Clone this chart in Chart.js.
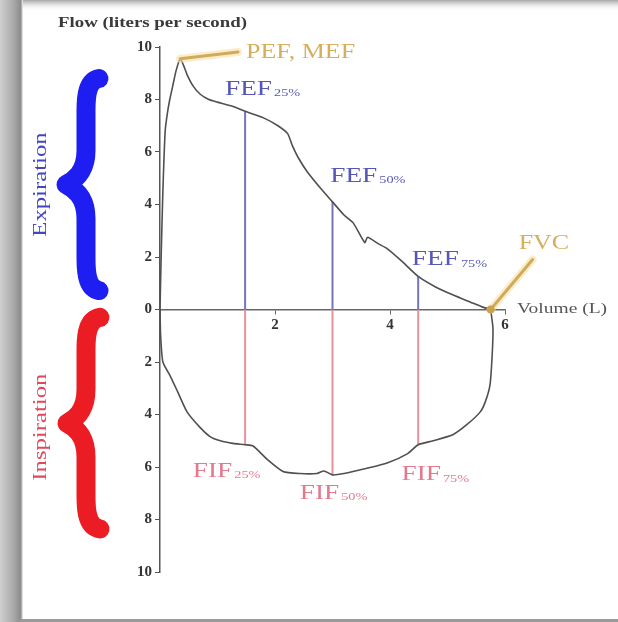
<!DOCTYPE html>
<html>
<head>
<meta charset="utf-8">
<title>Flow-volume loop</title>
<script src="https://cdn.jsdelivr.net/npm/chart.js@4.4.0/dist/chart.umd.min.js"></script>
<style>
  html, body { margin: 0; padding: 0; background: #fff; }
  #wrap { width: 618px; height: 622px; }
</style>
</head>
<body>
<div id="wrap"><canvas id="loopChart" width="618" height="622"></canvas></div>
<script>
// expiration limb: volume (L) vs flow (L/s)
const expVolume = [0, 0.02, 0.05, 0.09, 0.13, 0.17, 0.22, 0.28, 0.35, 0.41,
    0.47, 0.58, 0.7, 0.85, 1.0, 1.25, 1.48, 1.8, 2.05, 2.22,
    2.3, 2.4, 2.56, 2.8, 3.0, 3.2, 3.36, 3.56, 3.61, 3.8,
    3.95, 4.2, 4.49, 4.8, 5.1, 5.4, 5.6, 5.75];
const expFlow = [0, 2.0, 4.5, 6.8, 7.5, 8.0, 8.5, 9.1, 9.55, 9.3,
    8.95, 8.5, 8.2, 8.0, 7.9, 7.75, 7.55, 7.3, 7.0, 6.7,
    6.25, 5.8, 5.25, 4.6, 4.1, 3.6, 3.3, 2.55, 2.75, 2.5,
    2.32, 1.85, 1.26, 0.85, 0.55, 0.28, 0.1, 0];

// inspiration limb (negative flow)
const inspVolume = [0, 0.01, 0.05, 0.17, 0.3, 0.47, 0.7, 0.87, 1.05, 1.27,
    1.48, 1.62, 1.86, 2.14, 2.43, 2.73, 2.85, 3.0, 3.2, 3.6,
    3.95, 4.3, 4.49, 4.75, 5.1, 5.34, 5.57, 5.66, 5.74, 5.78,
    5.79, 5.75];
const inspFlow = [0, -0.95, -2.0, -2.5, -3.1, -3.9, -4.5, -4.84, -5.0, -5.1,
    -5.15, -5.2, -5.7, -6.17, -6.25, -6.25, -6.15, -6.3, -6.25, -6.05,
    -5.85, -5.5, -5.15, -5.0, -4.76, -4.38, -3.9, -3.5, -2.86, -1.6,
    -0.7, 0];

// 25 / 50 / 75 % of FVC
const markPercents = ['25%', '50%', '75%'];
const markVolume = [1.48, 3.0, 4.49];
const fefValues = [7.55, 4.1, 1.26];
const fifValues = [5.15, 6.3, 5.15];

const pefVolume = 0.35;
const pefValue = 9.55;
const fvcVolume = 5.75;

const xTicks = [0, 2, 4, 6];
const yTicks = [-10, -8, -6, -4, -2, 0, 2, 4, 6, 8, 10];

const SERIF = '"Liberation Serif", "Times New Roman", serif';
const STRETCH = 1.3;

function toPoints(xs, ys) {
    return xs.map((x, i) => ({ x: x, y: ys[i] }));
}

// draws text a bit wider than the font's natural shape
function wideText(ctx, str, x, y, size, color, opts) {
    opts = opts || {};
    ctx.save();
    ctx.font = (opts.bold ? 'bold ' : '') + size + 'px ' + SERIF;
    ctx.fillStyle = color;
    ctx.textBaseline = 'middle';
    ctx.textAlign = 'left';
    const w = ctx.measureText(str).width * STRETCH;
    ctx.translate(x - (opts.center ? w / 2 : 0), y);
    ctx.scale(STRETCH, 1);
    ctx.fillText(str, 0, 0);
    ctx.restore();
    return w;
}

function subLabel(ctx, main, sub, x, y, color) {
    const w = wideText(ctx, main, x, y, 21, color);
    wideText(ctx, sub, x + w + 2, y + 4, 11, color);
}

function brace(ctx, xEnd, xArm, xTip, yTop, yBottom, color) {
    const yMid = (yTop + yBottom) / 2;
    ctx.save();
    ctx.strokeStyle = color;
    ctx.lineWidth = 19;
    ctx.lineCap = 'round';
    ctx.lineJoin = 'round';
    ctx.beginPath();
    ctx.moveTo(xEnd, yTop);
    ctx.bezierCurveTo(xArm + 2, yTop + 2, xArm, yTop + 16, xArm, yTop + 32);
    ctx.lineTo(xArm, yMid - 34);
    ctx.bezierCurveTo(xArm, yMid - 12, xTip + 8, yMid - 4, xTip, yMid);
    ctx.bezierCurveTo(xTip + 8, yMid + 4, xArm, yMid + 12, xArm, yMid + 34);
    ctx.lineTo(xArm, yBottom - 32);
    ctx.bezierCurveTo(xArm, yBottom - 16, xArm + 2, yBottom - 2, xEnd, yBottom);
    ctx.stroke();
    ctx.restore();
}

function leader(ctx, x1, y1, x2, y2) {
    ctx.save();
    ctx.lineCap = 'round';
    ctx.strokeStyle = 'rgba(245, 225, 170, 0.6)';
    ctx.lineWidth = 8;
    ctx.beginPath();
    ctx.moveTo(x1, y1);
    ctx.lineTo(x2, y2);
    ctx.stroke();
    ctx.strokeStyle = '#d2ab58';
    ctx.lineWidth = 3;
    ctx.stroke();
    ctx.restore();
}

// grey photo frame round the figure
const framePlugin = {
    id: 'frame',
    beforeDraw(chart) {
        const ctx = chart.ctx;
        const w = chart.width, h = chart.height;
        ctx.save();
        ctx.fillStyle = '#fff';
        ctx.fillRect(0, 0, w, h);
        let g = ctx.createLinearGradient(0, 0, 23, 0);
        g.addColorStop(0, '#d0d0d0');
        g.addColorStop(0.6, '#a8a8a8');
        g.addColorStop(0.9, '#8c8c8c');
        g.addColorStop(1, '#f4f4f4');
        ctx.fillStyle = g;
        ctx.fillRect(0, 0, 23, h);
        g = ctx.createLinearGradient(0, 0, 0, 11);
        g.addColorStop(0, '#a6a6a6');
        g.addColorStop(1, 'rgba(255,255,255,0)');
        ctx.fillStyle = g;
        ctx.fillRect(23, 0, w - 23, 11);
        ctx.fillStyle = '#9a9a9a';
        ctx.fillRect(20, h - 3, w - 20, 3);
        ctx.restore();
    }
};

// braces, titles and FEF / FIF labels
const labelPlugin = {
    id: 'labels',
    afterDraw(chart) {
        const ctx = chart.ctx;
        const xs = chart.scales.x, ys = chart.scales.y;
        const px = v => xs.getPixelForValue(v);
        const py = v => ys.getPixelForValue(v);

        brace(ctx, 99, 86, 66, py(8.8), py(0.72), '#1e1ef2');
        brace(ctx, 100, 86, 67, py(-0.3), py(-8.36), '#ec1c24');

        ctx.save();
        ctx.translate(41, (py(8.8) + py(0.72)) / 2);
        ctx.rotate(-Math.PI / 2);
        wideText(ctx, 'Expiration', 0, 0, 19, '#4444c4', { center: true });
        ctx.restore();
        ctx.save();
        ctx.translate(41, (py(-0.3) + py(-8.36)) / 2 + 4);
        ctx.rotate(-Math.PI / 2);
        wideText(ctx, 'Inspiration', 0, 0, 19, '#e0485c', { center: true });
        ctx.restore();

        wideText(ctx, 'Flow (liters per second)', 58, 23, 14.5, '#3a3a3a', { bold: true });
        wideText(ctx, 'Volume (L)', 517, py(0), 15, '#555', {});

        // peak flow and FVC markers
        leader(ctx, px(pefVolume), py(pefValue), 238, 52);
        wideText(ctx, 'PEF, MEF', 246, 53, 20, '#d6ae5c');
        leader(ctx, px(fvcVolume), py(0), px(fvcVolume) + 42, py(0) - 50);
        wideText(ctx, 'FVC', px(fvcVolume) + 28, py(0) - 66, 20, '#d6ae5c');

        ctx.save();
        ctx.fillStyle = '#c9a24e';
        ctx.beginPath();
        ctx.arc(px(fvcVolume), py(0), 4, 0, Math.PI * 2);
        ctx.fill();
        ctx.restore();

        const fefAt = [[1.13, 8.38], [2.96, 5.07], [4.38, 1.9]];
        const fifAt = [[0.57, -6.17], [2.43, -7.0], [4.2, -6.3]];
        markPercents.forEach((p, i) => {
            subLabel(ctx, 'FEF', p, px(fefAt[i][0]), py(fefAt[i][1]), '#5656b8');
            subLabel(ctx, 'FIF', p, px(fifAt[i][0]), py(fifAt[i][1]), '#e27a8e');
        });
    }
};

const fefLines = markVolume.map((v, i) => ({
    data: [{ x: v, y: 0 }, { x: v, y: fefValues[i] }],
    borderColor: '#7474c0',
    borderWidth: 2,
    pointRadius: 0,
    order: 3
}));
const fifLines = markVolume.map((v, i) => ({
    data: [{ x: v, y: 0 }, { x: v, y: -fifValues[i] }],
    borderColor: '#e8929e',
    borderWidth: 2,
    pointRadius: 0,
    order: 3
}));

const tickFont = { family: SERIF, size: 15, weight: 'bold' };

const ctx = document.getElementById('loopChart').getContext('2d');
const loopChart = new Chart(ctx, {
    type: 'line',
    data: {
        datasets: [
            {
                label: 'Expiration',
                data: toPoints(expVolume, expFlow),
                borderColor: '#505050',
                borderWidth: 1.6,
                pointRadius: 0,
                tension: 0.2,
                order: 1
            },
            {
                label: 'Inspiration',
                data: toPoints(inspVolume, inspFlow),
                borderColor: '#505050',
                borderWidth: 1.6,
                pointRadius: 0,
                tension: 0.2,
                order: 1
            }
        ].concat(fefLines, fifLines)
    },
    options: {
        responsive: false,
        animation: false,
        devicePixelRatio: 1,
        layout: { padding: { left: 130, right: 113, top: 47, bottom: 50 } },
        plugins: {
            legend: { display: false },
            tooltip: { enabled: false }
        },
        scales: {
            x: {
                type: 'linear',
                position: { y: 0 },
                min: 0,
                max: 6,
                afterBuildTicks: axis => { axis.ticks = xTicks.map(v => ({ value: v })); },
                grid: { drawOnChartArea: false, drawTicks: true, tickLength: 4, color: '#666' },
                border: { color: '#666', width: 1.5 },
                ticks: {
                    callback: v => (v === 0 ? '' : v),
                    font: tickFont,
                    color: '#333',
                    padding: 3,
                    maxRotation: 0
                }
            },
            y: {
                type: 'linear',
                min: -10,
                max: 10,
                afterBuildTicks: axis => { axis.ticks = yTicks.map(v => ({ value: v })); },
                afterFit: scale => { scale.width = 30; },
                grid: { drawOnChartArea: false, drawTicks: true, tickLength: 5, color: '#555' },
                border: { color: '#555', width: 1.5 },
                ticks: {
                    callback: v => Math.abs(v),
                    font: tickFont,
                    color: '#333',
                    padding: 3
                }
            }
        }
    },
    plugins: [framePlugin, labelPlugin]
});
</script>
</body>
</html>
